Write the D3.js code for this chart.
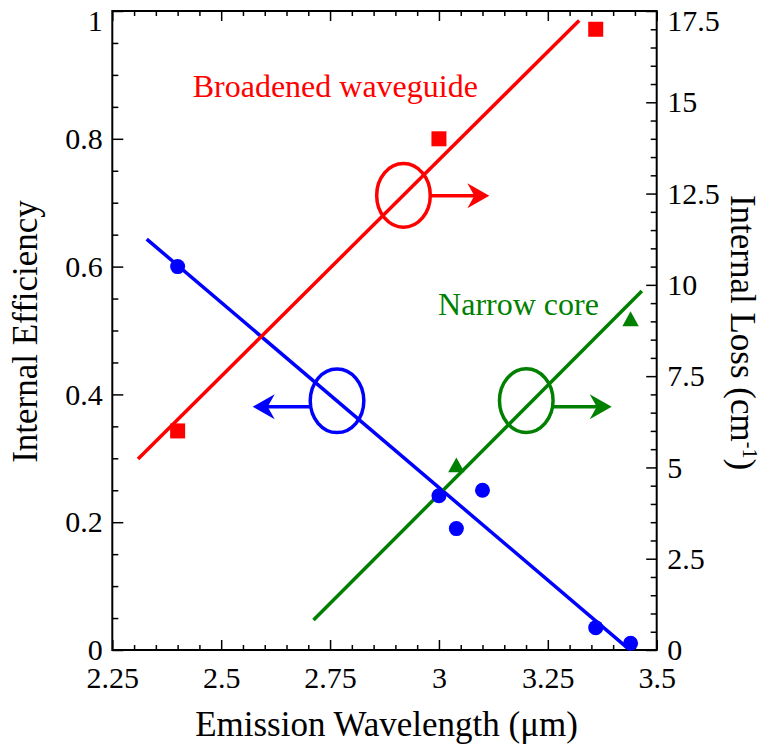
<!DOCTYPE html>
<html>
<head>
<meta charset="utf-8">
<script src="https://cdn.jsdelivr.net/npm/d3@7"></script>
<style>
  html, body { margin: 0; padding: 0; background: #fff; }
  svg text { font-family: "Liberation Serif", "Times New Roman", serif; }
</style>
</head>
<body>
<svg id="chart" width="765" height="749"></svg>
<script>
// ---------------- data ----------------
const xTicks = [2.25, 2.5, 2.75, 3, 3.25, 3.5];
const xTickLabels = ["2.25", "2.5", "2.75", "3", "3.25", "3.5"];
const effTicks = [0, 0.2, 0.4, 0.6, 0.8, 1];
const effTickLabels = ["0", "0.2", "0.4", "0.6", "0.8", "1"];
const lossTicks = [0, 2.5, 5, 7.5, 10, 12.5, 15, 17.5];
const lossTickLabels = ["0", "2.5", "5", "7.5", "10", "12.5", "15", "17.5"];

// Internal efficiency (blue circles, left axis)
const effX = [2.40, 3.00, 3.04, 3.10, 3.36, 3.44];
const effY = [0.600, 0.2415, 0.190, 0.250, 0.035, 0.0105];
const effFitX = [2.329, 3.43];
const effFitY = [0.643, 0.005];

// Broadened waveguide loss (red squares, right axis)
const broadX = [2.40, 3.00, 3.36];
const broadLoss = [6.0, 14.0, 17.0];
const broadFitX = [2.309, 3.322];
const broadFitLoss = [5.23, 17.24];

// Narrow core loss (green triangles, right axis)
const narrowX = [3.04, 3.44];
const narrowLoss = [5.0, 9.0];
const narrowFitX = [2.712, 3.466];
const narrowFitLoss = [0.82, 9.83];

// annotation ellipses + arrows (data coords)
const annColor = ["red", "blue", "green"];
const annAxis = ["loss", "eff", "loss"];
const annCx = [2.9186, 2.766, 3.2005];
const annCy = [12.45, 0.390, 6.83];
const annArrowY = [12.44, 0.3808, 6.664];
const annTipX = [3.1157, 2.5724, 3.3967];

const labelText = ["Broadened waveguide", "Narrow core"];
const labelX = [2.4346, 2.998];
const labelLoss = [15.155, 9.175];
const labelColor = ["#ff0000", "#008000"];

// ---------------- layout ----------------
const svg = d3.select("#chart");
const L = 112.3, R = 656.7, T = 11, B = 650;
const x = d3.scaleLinear().domain([2.25, 3.5]).range([L, R]);
const yE = d3.scaleLinear().domain([0, 1]).range([B, T]);
const yL = d3.scaleLinear().domain([0, 17.5]).range([B, T]);
const colors = { red: "#ff0000", blue: "#0000ff", green: "#008000" };

const range = (a, b, s) => { const o = []; for (let v = a; v <= b + 1e-9; v += s) o.push(+v.toFixed(4)); return o; };
const xMinor = range(2.25, 3.5, 0.05).filter(v => !xTicks.some(t => Math.abs(t - v) < 1e-6));
const effMinor = range(0, 1, 0.05).filter(v => !effTicks.some(t => Math.abs(t - v) < 1e-6));
const lossMinor = range(0, 17.5, 0.5).filter(v => !lossTicks.some(t => Math.abs(t - v) < 1e-6));

function styleAxis(g, fs) {
  g.select(".domain").remove();
  g.selectAll("line").attr("stroke", "#000").attr("stroke-width", 1.5);
  g.selectAll("text").attr("font-size", fs).attr("fill", "#000")
    .style("font-family", '"Liberation Serif", "Times New Roman", serif');
}

// bottom axis
const gxMinor = svg.append("g").attr("transform", `translate(0,${B})`)
  .call(d3.axisBottom(x).tickValues(xMinor).tickSizeInner(-5).tickSizeOuter(0).tickFormat(""));
styleAxis(gxMinor, 30);
const gx = svg.append("g").attr("transform", `translate(0,${B})`)
  .call(d3.axisBottom(x).tickValues(xTicks).tickSizeInner(-10).tickSizeOuter(0).tickPadding(16.7)
    .tickFormat((d, i) => xTickLabels[i]));
styleAxis(gx, 30);

// top axis (ticks only)
const gtMinor = svg.append("g").attr("transform", `translate(0,${T})`)
  .call(d3.axisTop(x).tickValues(xMinor).tickSizeInner(-5).tickSizeOuter(0).tickFormat(""));
styleAxis(gtMinor, 30);
const gt = svg.append("g").attr("transform", `translate(0,${T})`)
  .call(d3.axisTop(x).tickValues(xTicks).tickSizeInner(-10).tickSizeOuter(0).tickFormat(""));
styleAxis(gt, 30);

// left axis
const gyMinor = svg.append("g").attr("transform", `translate(${L},0)`)
  .call(d3.axisLeft(yE).tickValues(effMinor).tickSizeInner(-6).tickSizeOuter(0).tickFormat(""));
styleAxis(gyMinor, 30);
const gy = svg.append("g").attr("transform", `translate(${L},0)`)
  .call(d3.axisLeft(yE).tickValues(effTicks).tickSizeInner(-11).tickSizeOuter(0).tickPadding(9.6)
    .tickFormat((d, i) => effTickLabels[i]));
styleAxis(gy, 30);
gy.selectAll(".tick").filter(d => d === 1).select("text").attr("y", 10);

// right axis
const grMinor = svg.append("g").attr("transform", `translate(${R},0)`)
  .call(d3.axisRight(yL).tickValues(lossMinor).tickSizeInner(-6).tickSizeOuter(0).tickFormat(""));
styleAxis(grMinor, 30);
const gr = svg.append("g").attr("transform", `translate(${R},0)`)
  .call(d3.axisRight(yL).tickValues(lossTicks).tickSizeInner(-10.5).tickSizeOuter(0).tickPadding(10.5)
    .tickFormat((d, i) => lossTickLabels[i]));
styleAxis(gr, 30);
gr.selectAll(".tick").filter(d => d === 17.5).select("text").attr("y", 9.5);

// frame
svg.append("rect")
  .attr("x", x(2.25)).attr("y", yE(1))
  .attr("width", x(3.5) - x(2.25)).attr("height", yE(0) - yE(1))
  .attr("fill", "none").attr("stroke", "#000").attr("stroke-width", 2);

// ---------------- fit lines ----------------
const lw = 3.5;
const lineE = d3.line().x((d, i) => x(effFitX[i])).y(d => yE(d));
svg.append("path").datum(effFitY).attr("d", lineE)
  .attr("fill", "none").attr("stroke", colors.blue).attr("stroke-width", lw);
const lineB = d3.line().x((d, i) => x(broadFitX[i])).y(d => yL(d));
svg.append("path").datum(broadFitLoss).attr("d", lineB)
  .attr("fill", "none").attr("stroke", colors.red).attr("stroke-width", lw);
const lineN = d3.line().x((d, i) => x(narrowFitX[i])).y(d => yL(d));
svg.append("path").datum(narrowFitLoss).attr("d", lineN)
  .attr("fill", "none").attr("stroke", colors.green).attr("stroke-width", lw);

// ---------------- markers ----------------
svg.append("g").selectAll("circle").data(effY).join("circle")
  .attr("cx", (d, i) => x(effX[i])).attr("cy", d => yE(d)).attr("r", 7.5)
  .attr("fill", colors.blue);

const sq = 15;
svg.append("g").selectAll("rect").data(broadLoss).join("rect")
  .attr("x", (d, i) => x(broadX[i]) - sq / 2).attr("y", d => yL(d) - sq / 2)
  .attr("width", sq).attr("height", sq).attr("fill", colors.red);

svg.append("g").selectAll("path").data(narrowLoss).join("path")
  .attr("transform", (d, i) => `translate(${x(narrowX[i])},${yL(d)})`)
  .attr("d", "M0,-10 L8.2,4.8 L-8.2,4.8 Z").attr("fill", colors.green);

// ---------------- annotations ----------------
const rx = 26.8, ry = 31.8;
annColor.forEach((c, i) => {
  const ys = annAxis[i] === "eff" ? yE : yL;
  const cx = x(annCx[i]), cy = ys(annCy[i]);
  const ay = ys(annArrowY[i]);
  const tip = x(annTipX[i]);
  const dir = tip > cx ? 1 : -1;
  const dy = ay - cy;
  const startX = cx + dir * rx * Math.sqrt(Math.max(0, 1 - (dy * dy) / (ry * ry)));
  const g = svg.append("g");
  g.append("ellipse").attr("cx", cx).attr("cy", cy).attr("rx", rx).attr("ry", ry)
    .attr("fill", "none").attr("stroke", colors[c]).attr("stroke-width", lw);
  g.append("line").attr("x1", startX).attr("y1", ay).attr("x2", tip - dir * 14).attr("y2", ay)
    .attr("stroke", colors[c]).attr("stroke-width", lw);
  const hl = 22, hw = 12.5, notch = 7;
  g.append("path")
    .attr("d", `M${tip},${ay} L${tip - dir * hl},${ay - hw} L${tip - dir * (hl - notch)},${ay} L${tip - dir * hl},${ay + hw} Z`)
    .attr("fill", colors[c]);
});

svg.append("g").selectAll("text").data(labelText).join("text")
  .attr("x", (d, i) => x(labelX[i])).attr("y", (d, i) => yL(labelLoss[i]))
  .attr("font-size", 32).attr("fill", (d, i) => labelColor[i])
  .text(d => d);

// ---------------- axis titles ----------------
svg.append("text")
  .attr("x", (L + R) / 2 + 2).attr("y", 736)
  .attr("text-anchor", "middle").attr("font-size", 35).attr("fill", "#000")
  .text("Emission Wavelength (μm)");

svg.append("text")
  .attr("transform", `translate(37,${(T + B) / 2 + 1}) rotate(-90)`)
  .attr("text-anchor", "middle").attr("font-size", 35).attr("fill", "#000")
  .text("Internal Efficiency");

const rt = svg.append("text")
  .attr("transform", `translate(731,${(T + B) / 2 + 2}) rotate(90)`)
  .attr("text-anchor", "middle").attr("font-size", 35).attr("fill", "#000");
rt.append("tspan").text("Internal Loss (cm");
rt.append("tspan").attr("font-size", 20).attr("dy", -12).text("-1");
rt.append("tspan").attr("dy", 12).text(")");
</script>
</body>
</html>
